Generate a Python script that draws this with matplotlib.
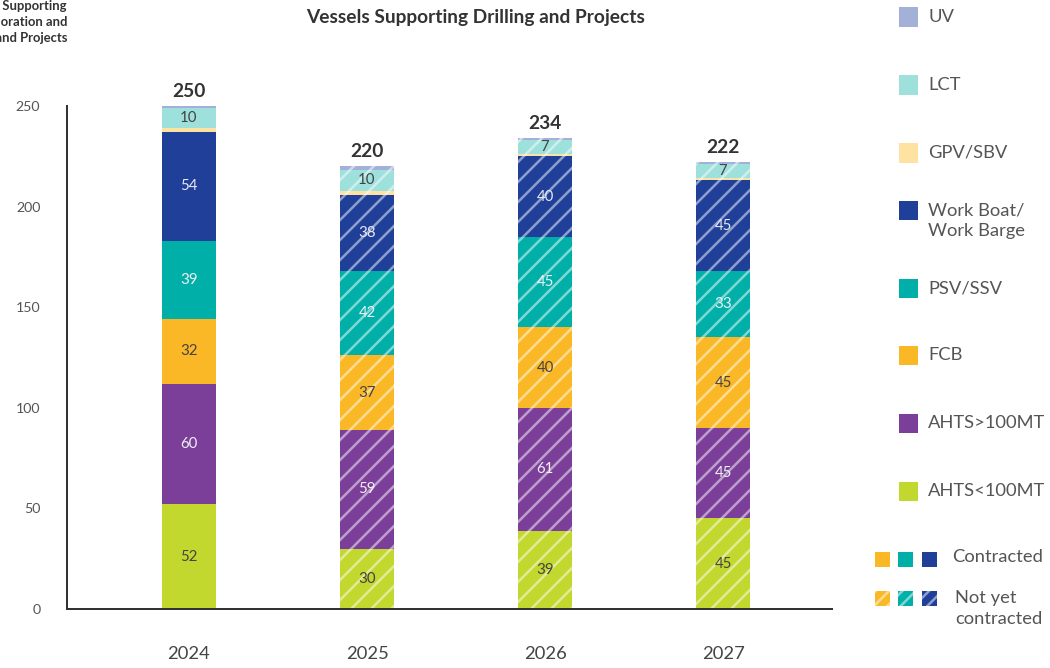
import matplotlib.pyplot as plt
from matplotlib.patches import Rectangle
import numpy as np

plt.rcParams['font.family'] = ['Lato', 'DejaVu Sans']
plt.rcParams['hatch.linewidth'] = 1.5

years = ['2024', '2025', '2026', '2027']
series = ['AHTS<100MT', 'AHTS>100MT', 'FCB', 'PSV/SSV', 'Work Boat/\nWork Barge', 'GPV/SBV', 'LCT', 'UV']
ahts_small = [52, 30, 39, 45]
ahts_big = [60, 59, 61, 45]
fcb = [32, 37, 40, 45]
psv = [39, 42, 45, 33]
work_boat = [54, 38, 40, 45]
gpv = [2, 2, 1, 1]
lct = [10, 10, 7, 7]
uv = [1, 2, 1, 1]
totals = [250, 220, 234, 222]
not_contracted = [False, True, True, True]

values = [ahts_small, ahts_big, fcb, psv, work_boat, gpv, lct, uv]
colors = ['#c3d82f', '#7b3f9a', '#fbb826', '#00b0a8', '#1f3f99', '#fde2a2', '#9de0dc', '#a3b0d8']
label_colors = ['#444444', '#f0f0f5', '#444444', '#f0f0f5', '#e8e8f0', None, '#444444', None]

W, H = 1050, 668
DPI = 120
fig = plt.figure(figsize=(W / DPI, H / DPI), dpi=DPI)


def px(x, y):
    return (x / W, 1 - y / H)


ax = fig.add_axes([67 / W, 59 / H, (832 - 67) / W, (609 - 106) / H])

x = np.arange(len(years))
width = 0.30
bottom = np.zeros(len(years))
for vals, col, lc in zip(values, colors, label_colors):
    bars = ax.bar(x, vals, width, bottom=bottom, color=col, linewidth=0,
                  edgecolor=(1, 1, 1, 0.5))
    for b, nc in zip(bars, not_contracted):
        if nc:
            b.set_hatch('//')
    if lc is not None:
        for xi, v, b0 in zip(x, vals, bottom):
            ax.text(xi, b0 + v / 2, str(v), ha='center', va='center',
                    fontsize=9, color=lc)
    bottom += np.array(vals)

for xi, t, top in zip(x, totals, bottom):
    ax.text(xi, top + 3, str(t), ha='center', va='bottom', fontsize=11.5,
            fontweight='bold', color='#333333')

ax.set_xlim(-0.685, 3.612)
ax.set_ylim(0, 250)
ax.set_yticks([0, 50, 100, 150, 200, 250])
ax.set_xticks(x)
ax.set_xticklabels(years)
ax.tick_params(axis='y', length=0, pad=16, labelsize=8.5, labelcolor='#555555')
ax.tick_params(axis='x', length=0, pad=22, labelsize=11, labelcolor='#444444')
for s in ['top', 'right']:
    ax.spines[s].set_visible(False)
for s in ['left', 'bottom']:
    ax.spines[s].set_color('#333333')
    ax.spines[s].set_linewidth(1.2)

fig.text(*px(476, 17), 'Vessels Supporting Drilling and Projects', ha='center',
         va='center', fontsize=11.5, fontweight='bold', color='#333333')
fig.text(*px(67, 22), 'Vessels Supporting\nExploration and\nDrilling and Projects',
         ha='right', va='center', multialignment='right', fontsize=7.8,
         fontweight='bold', color='#333333', linespacing=1.35)

# legend on the right
legend_y = [491, 423, 355, 288, 210, 153, 85, 17]
for name, col, yy in zip(series, colors, legend_y):
    x0, y0 = px(899, yy + 9.5)
    fig.add_artist(Rectangle((x0, y0), 19 / W, 19 / H, transform=fig.transFigure,
                             facecolor=col, linewidth=0))
    fig.text(*px(928, yy), name.split('\n')[0], ha='left', va='center',
             fontsize=11, color='#555555')
    if '\n' in name:
        fig.text(*px(928, yy + 21), name.split('\n')[1], ha='left', va='center',
                 fontsize=11, color='#555555')

key_colors = ['#fbb826', '#00b0a8', '#1f3f99']
key_x = [875, 898, 922]
for kx, kc in zip(key_x, key_colors):
    for ky, hatch in [(559, None), (598, '/')]:
        x0, y0 = px(kx, ky + 7.5)
        r = Rectangle((x0, y0), 15 / W, 15 / H, transform=fig.transFigure,
                      facecolor=kc, linewidth=0, edgecolor=(1, 1, 1, 0.5))
        if hatch:
            r.set_hatch('///')
        fig.add_artist(r)
fig.text(*px(952, 557), 'Contracted', ha='left', va='center', fontsize=11, color='#555555')
fig.text(*px(955, 598), 'Not yet', ha='left', va='center', fontsize=11, color='#555555')
fig.text(*px(955, 619), 'contracted', ha='left', va='center', fontsize=11, color='#555555')

fig.savefig('out.png', dpi=DPI)
